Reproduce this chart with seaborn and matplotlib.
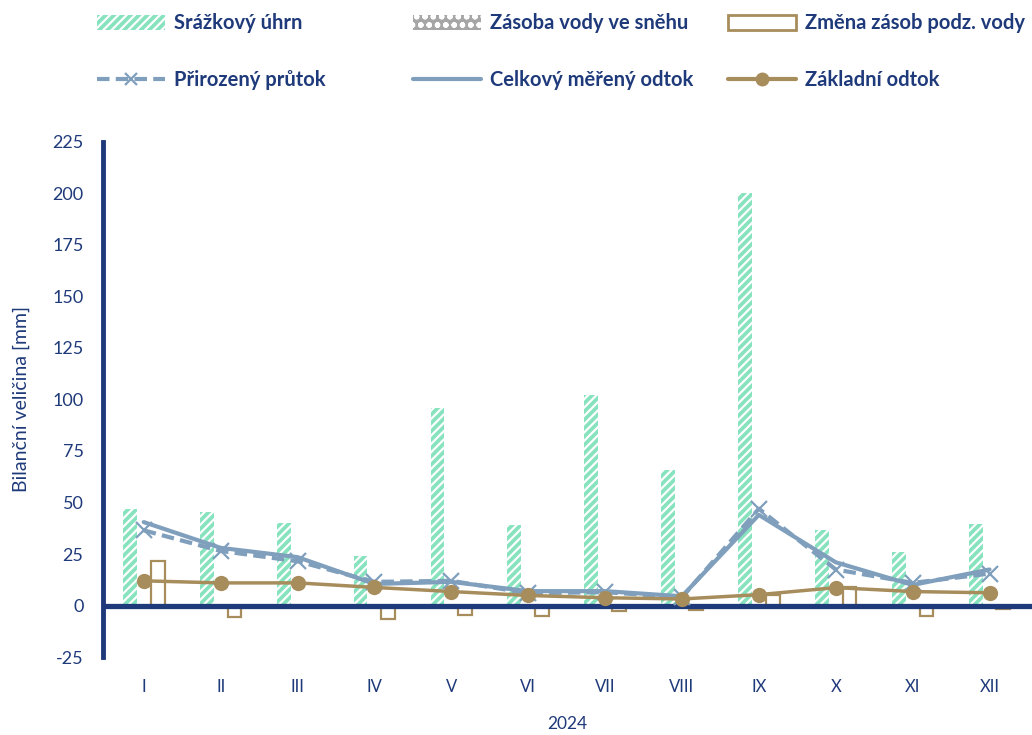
import numpy as np
import pandas as pd
import matplotlib.pyplot as plt
import seaborn as sns
from matplotlib.patches import Patch
from matplotlib.lines import Line2D

# monthly water balance values [mm]
months = ['I', 'II', 'III', 'IV', 'V', 'VI', 'VII', 'VIII', 'IX', 'X', 'XI', 'XII']
precip = [47, 45.5, 40, 24, 96, 39, 102, 66, 200, 36.5, 26, 39.5]
snow = [0, 0, 0, 0, 0, 0, 0, 0, 0, 0, 0, 0]
gw_change = [21.5, -5.5, 0, -6.5, -4.5, -5, -2.5, -2, 5, 9, -5, -1.5]
natural_flow = [36.5, 26.5, 21.5, 11.5, 12, 6, 6.5, 4, 47, 17.5, 11, 15.5]
measured = [40.5, 28, 23.5, 10.5, 11.5, 7, 7, 4.5, 44, 21, 10, 17.5]
baseflow = [12, 11, 11, 8.8, 6.8, 4.9, 3.8, 3.2, 5.3, 8.7, 6.8, 6.2]

names = ['Srážkový úhrn', 'Zásoba vody ve sněhu', 'Změna zásob podz. vody']

navy = '#1f3a7a'
green = '#86e3be'
grey = '#a6a6a6'
tan = '#a88d5c'
blue = '#7f9fbd'

sns.set_theme(style='white')
plt.rcParams['font.family'] = ['Lato', 'DejaVu Sans']
plt.rcParams['hatch.linewidth'] = 1.6
plt.rcParams['axes.unicode_minus'] = False

df = pd.DataFrame({
    'month': months * 3,
    'value': precip + snow + gw_change,
    'series': [names[0]] * 12 + [names[1]] * 12 + [names[2]] * 12,
})

fig = plt.figure(figsize=(10.32, 7.35), dpi=100)
ax = fig.add_axes([0.0998, 0.106, 0.90, 0.701])

sns.barplot(data=df, x='month', y='value', hue='series', order=months,
            hue_order=names, width=0.54, gap=0, legend=False, ax=ax,
            palette=[green, grey, 'white'])

# style the three bar groups
for bar in ax.containers[0]:
    bar.set_facecolor(green)
    bar.set_edgecolor('white')
    bar.set_hatch('////')
    bar.set_linewidth(0)
for bar in ax.containers[2]:
    bar.set_facecolor('none')
    bar.set_edgecolor(tan)
    bar.set_linewidth(1.6)
    bar.set_zorder(3)

x = np.arange(len(months))
sns.lineplot(x=x, y=natural_flow, ax=ax, color=blue, lw=3, dashes=(3, 1.5),
             marker='x', markersize=11, markeredgewidth=1.6,
             markeredgecolor=blue, zorder=4)
sns.lineplot(x=x, y=measured, ax=ax, color=blue, lw=3, zorder=4)
sns.lineplot(x=x, y=baseflow, ax=ax, color=tan, lw=2.5, marker='o',
             markersize=11, markeredgewidth=0, zorder=5)

ax.axhline(0, color=navy, lw=3.8, zorder=3.5)

ax.set_ylim(-25, 225)
ax.set_xlim(-0.53, 11.55)
ax.set_yticks(range(-25, 226, 25))
sns.despine(ax=ax, bottom=True)
ax.spines['left'].set_color(navy)
ax.spines['left'].set_linewidth(3.5)
ax.tick_params(axis='y', length=0, pad=14, labelsize=13, labelcolor=navy)
ax.tick_params(axis='x', length=0, pad=16, labelsize=12, labelcolor=navy)
ax.set_xlabel('2024', color=navy, fontsize=12.5, labelpad=15)
ax.set_ylabel('Bilanční veličina [mm]', color=navy, fontsize=14, labelpad=16)
ax.grid(False)

# legend: three columns, two rows
cols = [
    ([Patch(facecolor=green, edgecolor='white', hatch='////', lw=0),
      Line2D([], [], color=blue, lw=3, dashes=(3, 1.5), marker='x',
             markersize=9, markeredgewidth=1.6)],
     [names[0], 'Přirozený průtok'], 97),
    ([Patch(facecolor=grey, edgecolor='white', hatch='oo', lw=0),
      Line2D([], [], color=blue, lw=3)],
     [names[1], 'Celkový měřený odtok'], 413),
    ([Patch(facecolor='white', edgecolor=tan, lw=2),
      Line2D([], [], color=tan, lw=3, marker='o', markersize=9)],
     [names[2], 'Základní odtok'], 728),
]
for hs, ls, px in cols:
    leg = fig.legend(hs, ls, loc='upper left', bbox_to_anchor=(px / 1032, 0.982),
                     frameon=False, borderpad=0, borderaxespad=0,
                     handlelength=3.4, handleheight=0.8, handletextpad=0.4,
                     labelspacing=1.85, prop={'weight': 'bold', 'size': 14.5})
    for t in leg.get_texts():
        t.set_color(navy)

fig.savefig('out.png', dpi=100)
